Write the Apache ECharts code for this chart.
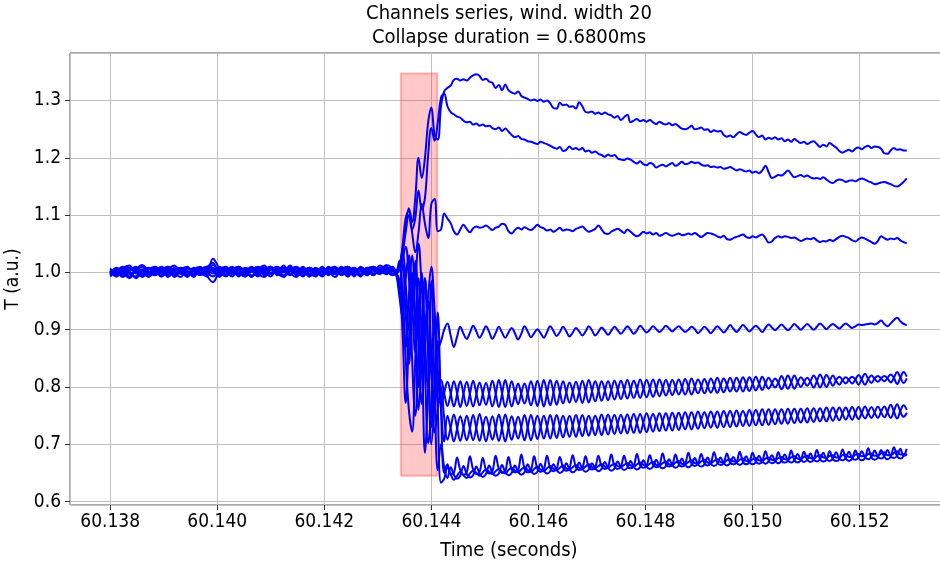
<!DOCTYPE html>
<html>
<head>
<meta charset="utf-8">
<script src="https://cdn.jsdelivr.net/npm/echarts@6/dist/echarts.min.js"></script>
<style>
  html, body { margin: 0; padding: 0; background: #ffffff; }
  #chart { width: 940px; height: 570px; }
</style>
</head>
<body>
<div id="chart"></div>
<script>
// Sample clocks: a coarse clock before the collapse, a finer one from the collapse onwards.
const PRE_START = 60.138, PRE_STEP = 0.00012;   // 45 samples
const MAIN_START = 60.14334, MAIN_STEP = 0.00006; // 160 samples

// Collapse window (seconds) and its vertical extent
const COLLAPSE_START = 60.14343;
const COLLAPSE_DURATION = 0.00068;
const COLLAPSE_LOW = 0.645, COLLAPSE_HIGH = 1.347;

const X_TICKS = [60.138, 60.140, 60.142, 60.144, 60.146, 60.148, 60.150, 60.152];
const Y_TICKS = [0.6, 0.7, 0.8, 0.9, 1.0, 1.1, 1.2, 1.3];

// ---- channel 1 (highest after collapse)
const ch1Pre = [
  1.002,0.993,1.007,1.012,0.998,1.005,0.992,1.003,1.010,0.997,1.002,1.008,0.995,1.005,1.000,
  0.993,1.013,1.003,0.998,1.007,0.995,1.002,1.010,0.998,0.992,1.005,1.002,1.012,0.997,1.003,
  0.993,1.007,1.000,1.010,0.995,1.003,0.998,1.008,1.002,0.993,1.007,1.003,1.012,1.005,1.002];
const ch1Main = [
  1.002,1.010,1.040,1.080,1.112,1.088,1.130,1.200,1.165,1.200,1.262,1.288,1.240,1.232,1.290,1.316,
  1.322,1.326,1.336,1.338,1.335,1.337,1.335,1.340,1.344,1.346,1.343,1.336,1.338,1.333,1.331,1.322,
  1.327,1.318,1.328,1.318,1.314,1.312,1.316,1.308,1.305,1.303,1.300,1.302,1.299,1.302,1.298,1.300,
  1.295,1.287,1.286,1.296,1.292,1.293,1.289,1.290,1.286,1.297,1.290,1.280,1.279,1.281,1.277,1.279,
  1.276,1.279,1.276,1.274,1.270,1.273,1.266,1.271,1.275,1.262,1.265,1.268,1.264,1.266,1.263,1.266,
  1.262,1.259,1.263,1.260,1.258,1.261,1.257,1.259,1.255,1.251,1.250,1.252,1.256,1.250,1.251,1.253,
  1.249,1.250,1.245,1.248,1.246,1.247,1.240,1.237,1.239,1.236,1.241,1.245,1.242,1.240,1.244,1.247,
  1.241,1.236,1.239,1.232,1.235,1.233,1.236,1.232,1.234,1.229,1.232,1.228,1.233,1.229,1.226,1.228,
  1.224,1.227,1.229,1.224,1.219,1.223,1.220,1.226,1.222,1.218,1.212,1.209,1.212,1.214,1.211,1.216,
  1.218,1.215,1.219,1.221,1.217,1.220,1.219,1.216,1.208,1.207,1.213,1.217,1.214,1.215,1.213,1.213];

// ---- channel 2
const ch2Pre = [
  0.997,1.008,1.000,0.990,1.005,1.013,1.002,0.995,1.003,1.010,0.998,0.992,1.007,1.002,0.997,
  1.008,1.017,0.995,1.005,0.998,1.010,1.003,0.993,1.005,1.012,0.998,1.003,0.993,1.007,1.000,
  1.010,0.997,1.005,0.995,1.008,1.002,0.997,1.005,0.993,1.010,1.002,1.007,0.998,1.008,1.003];
const ch2Main = [
  0.998,1.005,1.030,1.070,1.100,1.075,1.095,1.143,1.110,1.130,1.205,1.252,1.230,1.262,1.305,1.312,
  1.290,1.280,1.276,1.272,1.270,1.265,1.262,1.263,1.258,1.260,1.256,1.258,1.255,1.256,1.252,1.250,
  1.253,1.247,1.251,1.246,1.240,1.236,1.238,1.233,1.232,1.229,1.228,1.226,1.224,1.228,1.226,1.224,
  1.221,1.218,1.216,1.219,1.212,1.214,1.220,1.215,1.217,1.214,1.217,1.211,1.213,1.209,1.211,1.207,
  1.205,1.202,1.206,1.203,1.205,1.199,1.197,1.196,1.199,1.197,1.193,1.190,1.194,1.189,1.187,1.191,
  1.189,1.183,1.186,1.188,1.185,1.188,1.191,1.186,1.189,1.193,1.189,1.190,1.193,1.191,1.192,1.188,
  1.186,1.187,1.184,1.185,1.183,1.184,1.181,1.182,1.184,1.181,1.178,1.180,1.178,1.176,1.178,1.174,
  1.176,1.173,1.178,1.186,1.175,1.165,1.167,1.170,1.169,1.173,1.178,1.172,1.166,1.168,1.170,1.167,
  1.169,1.166,1.164,1.165,1.163,1.166,1.162,1.158,1.156,1.160,1.162,1.161,1.158,1.160,1.161,1.159,
  1.162,1.164,1.162,1.159,1.157,1.154,1.155,1.157,1.158,1.156,1.154,1.151,1.150,1.153,1.158,1.164];

// ---- channel 3
const ch3Pre = [
  1.005,1.000,0.992,1.003,1.010,0.998,1.007,1.002,0.993,1.005,1.012,1.000,0.997,1.008,1.003,
  1.000,1.024,1.007,0.995,1.002,1.008,0.997,1.005,1.010,1.000,0.993,1.007,1.002,1.012,0.998,
  1.003,1.008,0.995,1.002,1.007,0.997,1.010,1.000,1.005,1.002,0.995,1.010,1.005,1.013,1.007];
const ch3Main = [
  1.000,1.006,1.045,1.095,1.108,1.070,1.035,1.070,1.120,1.085,1.060,1.120,1.128,1.072,1.075,1.103,
  1.094,1.086,1.072,1.066,1.075,1.083,1.076,1.070,1.077,1.080,1.078,1.079,1.082,1.078,1.074,1.078,
  1.080,1.085,1.083,1.072,1.068,1.074,1.078,1.075,1.079,1.076,1.074,1.078,1.083,1.079,1.077,1.073,
  1.075,1.071,1.074,1.078,1.073,1.075,1.074,1.072,1.076,1.078,1.080,1.075,1.071,1.073,1.076,1.082,
  1.075,1.068,1.067,1.071,1.074,1.076,1.073,1.069,1.075,1.071,1.066,1.063,1.066,1.071,1.068,1.070,
  1.066,1.069,1.064,1.066,1.069,1.066,1.064,1.066,1.068,1.065,1.066,1.068,1.066,1.069,1.065,1.062,
  1.065,1.069,1.068,1.066,1.063,1.061,1.064,1.058,1.057,1.060,1.062,1.064,1.066,1.062,1.060,1.063,
  1.061,1.064,1.066,1.060,1.052,1.054,1.060,1.063,1.061,1.063,1.062,1.060,1.061,1.058,1.055,1.057,
  1.059,1.058,1.060,1.056,1.053,1.055,1.054,1.057,1.055,1.058,1.062,1.064,1.062,1.060,1.056,1.054,
  1.058,1.061,1.059,1.056,1.053,1.050,1.055,1.063,1.060,1.057,1.059,1.058,1.060,1.056,1.053,1.051];

// ---- channel 4 (settles near 0.9)
const ch4Pre = [
  0.995,1.003,1.010,0.998,0.993,1.005,1.000,1.008,0.997,1.003,0.992,1.005,1.010,0.998,1.007,
  0.995,0.983,1.002,1.008,0.997,1.003,1.007,0.995,1.000,1.005,1.010,0.997,1.003,0.998,0.992,
  1.007,1.002,1.008,0.997,1.000,1.007,0.995,1.003,1.008,0.997,1.005,0.998,1.003,1.010,0.998];
const ch4Main = [
  0.998,0.985,1.020,1.045,0.990,0.930,0.985,1.050,0.975,0.900,0.960,1.010,0.935,0.865,0.880,0.900,
  0.911,0.890,0.870,0.888,0.905,0.893,0.884,0.895,0.907,0.897,0.886,0.895,0.906,0.896,0.884,0.894,
  0.905,0.895,0.886,0.895,0.903,0.894,0.883,0.893,0.906,0.897,0.887,0.894,0.901,0.894,0.886,0.896,
  0.906,0.898,0.889,0.896,0.905,0.897,0.888,0.895,0.903,0.897,0.890,0.897,0.906,0.899,0.890,0.896,
  0.904,0.898,0.891,0.898,0.905,0.899,0.893,0.899,0.906,0.900,0.893,0.899,0.907,0.901,0.895,0.900,
  0.906,0.901,0.896,0.901,0.907,0.902,0.897,0.902,0.906,0.901,0.896,0.900,0.905,0.901,0.894,0.899,
  0.905,0.900,0.894,0.900,0.906,0.901,0.895,0.901,0.908,0.902,0.896,0.902,0.908,0.903,0.897,0.902,
  0.907,0.902,0.896,0.903,0.909,0.904,0.899,0.904,0.909,0.904,0.899,0.904,0.910,0.905,0.900,0.905,
  0.910,0.905,0.900,0.905,0.911,0.906,0.901,0.906,0.910,0.906,0.902,0.907,0.911,0.907,0.903,0.906,
  0.909,0.908,0.909,0.910,0.911,0.909,0.912,0.916,0.910,0.906,0.911,0.917,0.921,0.915,0.910,0.908];

// ---- channels 5 and 6 (anti-phase pair near 0.79)
const ch5Pre = [
  1.003,0.997,1.005,1.008,1.000,0.993,1.007,0.998,1.005,1.000,1.008,0.997,1.003,0.993,1.008,
  1.005,0.998,1.010,1.002,0.993,1.005,1.000,1.008,0.995,1.003,1.007,0.998,0.992,1.005,1.010,
  1.000,0.995,1.007,1.003,0.998,1.008,1.003,0.993,1.007,1.002,1.008,0.997,1.005,1.000,1.007];
const ch5Main = [
  1.002,0.980,0.940,0.990,1.030,0.950,0.860,0.930,0.985,0.880,0.800,0.860,0.905,0.830,0.770,0.790,
  0.809,0.789,0.766,0.787,0.810,0.788,0.767,0.788,0.811,0.789,0.768,0.788,0.807,0.788,0.766,0.787,
  0.812,0.789,0.765,0.788,0.810,0.789,0.770,0.789,0.806,0.788,0.768,0.788,0.811,0.790,0.766,0.789,
  0.812,0.791,0.769,0.790,0.810,0.791,0.773,0.791,0.809,0.792,0.772,0.792,0.812,0.793,0.775,0.793,
  0.810,0.794,0.777,0.794,0.811,0.795,0.779,0.795,0.812,0.796,0.781,0.796,0.813,0.797,0.782,0.797,
  0.813,0.798,0.784,0.798,0.812,0.799,0.786,0.799,0.813,0.800,0.787,0.800,0.815,0.801,0.789,0.801,
  0.814,0.802,0.790,0.802,0.816,0.803,0.791,0.803,0.816,0.804,0.792,0.804,0.817,0.805,0.793,0.805,
  0.818,0.806,0.795,0.806,0.816,0.807,0.799,0.807,0.819,0.808,0.797,0.808,0.820,0.809,0.800,0.809,
  0.816,0.809,0.799,0.810,0.822,0.811,0.800,0.811,0.820,0.811,0.804,0.812,0.817,0.812,0.806,0.813,
  0.821,0.813,0.804,0.814,0.820,0.814,0.809,0.815,0.819,0.815,0.808,0.816,0.826,0.817,0.807,0.815];

const ch6Pre = [
  0.998,1.007,0.995,1.002,1.008,1.003,0.997,1.010,1.000,0.995,1.005,1.002,0.992,1.007,0.998,
  1.010,1.005,0.997,1.003,1.010,0.998,0.993,1.002,1.007,0.997,1.005,1.010,1.002,0.995,1.007,
  1.003,0.998,0.993,1.008,1.002,0.997,1.005,1.010,0.998,1.003,0.995,1.008,1.002,0.997,1.010];
const ch6Main = [
  0.998,1.010,1.035,0.980,0.900,0.960,1.020,0.930,0.840,0.900,0.950,0.850,0.770,0.800,0.812,0.788,
  0.767,0.787,0.810,0.789,0.765,0.788,0.809,0.787,0.766,0.787,0.808,0.788,0.769,0.789,0.811,0.789,
  0.765,0.788,0.812,0.789,0.766,0.787,0.806,0.788,0.771,0.789,0.810,0.790,0.767,0.789,0.812,0.790,
  0.768,0.790,0.811,0.791,0.771,0.790,0.808,0.792,0.774,0.791,0.811,0.793,0.773,0.792,0.810,0.794,
  0.776,0.793,0.810,0.795,0.778,0.794,0.811,0.796,0.780,0.795,0.811,0.797,0.781,0.796,0.812,0.798,
  0.783,0.797,0.813,0.799,0.785,0.798,0.812,0.800,0.787,0.799,0.814,0.801,0.787,0.800,0.813,0.802,
  0.789,0.801,0.815,0.803,0.790,0.802,0.815,0.804,0.792,0.803,0.816,0.805,0.792,0.804,0.817,0.806,
  0.794,0.805,0.818,0.807,0.797,0.806,0.815,0.808,0.796,0.807,0.820,0.809,0.797,0.808,0.817,0.810,
  0.802,0.810,0.820,0.811,0.799,0.810,0.821,0.812,0.802,0.812,0.818,0.812,0.806,0.813,0.818,0.813,
  0.804,0.814,0.823,0.814,0.807,0.815,0.819,0.815,0.810,0.816,0.822,0.816,0.805,0.816,0.826,0.818];

// ---- channels 7 and 8 (anti-phase pair near 0.74)
const ch7Pre = [
  1.007,0.998,1.003,0.993,1.005,1.010,0.997,1.002,1.007,0.992,1.003,1.008,1.000,0.995,1.005,
  1.010,1.003,0.992,1.007,1.002,0.997,1.008,1.003,0.993,1.007,1.000,1.005,1.008,0.997,1.002,
  1.007,0.993,1.005,1.000,1.010,0.997,1.003,0.993,1.007,1.003,0.998,1.005,1.008,1.002,0.995];
const ch7Main = [
  0.996,0.970,1.015,0.930,0.840,0.950,1.010,0.880,0.770,0.870,0.950,0.830,0.720,0.760,0.800,0.745,
  0.708,0.729,0.752,0.729,0.706,0.728,0.750,0.728,0.707,0.729,0.753,0.729,0.705,0.728,0.749,0.728,
  0.706,0.729,0.752,0.729,0.708,0.729,0.748,0.729,0.707,0.730,0.751,0.730,0.709,0.730,0.750,0.731,
  0.710,0.731,0.751,0.731,0.712,0.732,0.750,0.732,0.713,0.733,0.751,0.733,0.715,0.734,0.750,0.734,
  0.716,0.735,0.752,0.735,0.718,0.736,0.751,0.736,0.719,0.737,0.753,0.737,0.720,0.738,0.754,0.738,
  0.722,0.739,0.754,0.739,0.724,0.740,0.755,0.740,0.725,0.741,0.756,0.741,0.726,0.742,0.757,0.742,
  0.728,0.743,0.757,0.743,0.729,0.744,0.758,0.744,0.730,0.745,0.759,0.745,0.732,0.746,0.760,0.746,
  0.733,0.747,0.761,0.747,0.734,0.748,0.761,0.748,0.736,0.749,0.762,0.749,0.737,0.750,0.762,0.750,
  0.738,0.751,0.763,0.751,0.740,0.752,0.764,0.752,0.741,0.753,0.764,0.753,0.743,0.754,0.765,0.754,
  0.744,0.755,0.766,0.755,0.746,0.756,0.766,0.756,0.747,0.757,0.769,0.757,0.745,0.758,0.768,0.760];

const ch8Pre = [
  1.000,1.005,0.997,1.008,1.002,0.995,1.007,1.003,0.993,1.008,1.002,0.998,1.007,1.003,0.995,
  1.002,1.008,1.000,0.993,1.005,1.010,0.998,1.002,1.005,0.995,1.008,1.000,1.003,1.010,0.997,
  0.995,1.007,1.002,0.993,1.005,1.010,0.998,1.002,1.007,0.995,1.008,1.003,0.997,1.007,1.005];
const ch8Main = [
  1.003,1.020,0.960,0.870,0.960,1.030,0.920,0.800,0.900,0.990,0.850,0.730,0.800,0.880,0.770,0.705,
  0.750,0.728,0.705,0.727,0.749,0.729,0.707,0.728,0.751,0.728,0.706,0.729,0.748,0.728,0.708,0.729,
  0.752,0.728,0.705,0.729,0.749,0.729,0.710,0.730,0.751,0.729,0.707,0.730,0.750,0.731,0.710,0.730,
  0.751,0.731,0.711,0.732,0.750,0.731,0.713,0.733,0.751,0.732,0.714,0.734,0.750,0.733,0.716,0.735,
  0.752,0.734,0.717,0.736,0.751,0.735,0.719,0.737,0.752,0.736,0.720,0.738,0.753,0.737,0.721,0.739,
  0.753,0.738,0.723,0.740,0.754,0.739,0.724,0.741,0.755,0.740,0.726,0.742,0.756,0.741,0.727,0.743,
  0.756,0.742,0.729,0.744,0.757,0.743,0.730,0.745,0.758,0.744,0.731,0.746,0.758,0.745,0.732,0.747,
  0.760,0.746,0.733,0.748,0.761,0.747,0.735,0.749,0.761,0.748,0.736,0.750,0.762,0.749,0.738,0.751,
  0.763,0.750,0.739,0.752,0.763,0.751,0.740,0.753,0.764,0.752,0.742,0.754,0.764,0.753,0.743,0.755,
  0.765,0.754,0.745,0.756,0.765,0.755,0.746,0.757,0.766,0.756,0.746,0.758,0.770,0.757,0.748,0.755];

// ---- channels 9, 10, 11 (lowest group near 0.66 - 0.68)
const ch9Pre = [
  0.993,1.002,1.007,0.997,1.003,0.992,1.005,1.010,1.000,0.995,1.007,1.002,0.993,1.005,1.010,
  0.997,1.007,1.003,0.995,1.008,1.000,1.005,0.992,1.003,1.008,0.998,1.005,0.995,1.002,1.007,
  0.998,1.008,1.003,0.995,1.007,1.000,1.005,0.997,1.002,1.008,1.003,0.995,1.007,1.002,1.005];
const ch9Main = [
  0.999,0.985,0.900,0.772,0.880,1.000,0.900,0.760,0.850,0.990,0.870,0.700,0.780,0.930,0.760,0.650,
  0.665,0.648,0.650,0.677,0.655,0.647,0.651,0.679,0.656,0.648,0.652,0.676,0.655,0.649,0.653,0.680,
  0.657,0.650,0.653,0.678,0.656,0.651,0.654,0.682,0.658,0.651,0.655,0.679,0.657,0.652,0.656,0.680,
  0.658,0.653,0.657,0.678,0.659,0.654,0.658,0.681,0.660,0.655,0.658,0.679,0.660,0.656,0.659,0.680,
  0.661,0.657,0.660,0.682,0.662,0.657,0.661,0.680,0.662,0.658,0.662,0.683,0.663,0.659,0.662,0.681,
  0.664,0.660,0.663,0.684,0.665,0.661,0.664,0.682,0.665,0.661,0.665,0.685,0.666,0.662,0.666,0.683,
  0.667,0.663,0.667,0.686,0.668,0.664,0.667,0.684,0.668,0.665,0.668,0.687,0.669,0.665,0.669,0.685,
  0.670,0.666,0.670,0.688,0.671,0.667,0.670,0.686,0.671,0.668,0.671,0.689,0.672,0.668,0.672,0.687,
  0.673,0.669,0.673,0.690,0.674,0.670,0.673,0.688,0.674,0.671,0.674,0.691,0.675,0.671,0.675,0.689,
  0.676,0.672,0.676,0.693,0.677,0.673,0.677,0.690,0.678,0.674,0.678,0.695,0.679,0.675,0.679,0.692];

const ch10Pre = [
  1.002,0.995,1.005,1.002,0.990,1.003,1.008,0.998,1.005,1.010,0.997,1.003,1.002,0.992,1.005,
  1.000,0.993,1.005,1.010,0.998,1.007,0.993,1.003,1.008,1.002,0.997,1.007,1.000,1.005,0.995,
  1.008,1.003,0.997,1.007,1.002,0.992,1.005,1.010,1.000,0.995,1.007,1.010,1.000,1.005,1.008];
const ch10Main = [
  1.000,1.010,0.960,0.850,0.760,0.722,0.850,0.990,0.880,0.685,0.800,0.985,0.800,0.655,0.700,0.660,
  0.641,0.660,0.647,0.640,0.645,0.662,0.648,0.642,0.646,0.661,0.649,0.643,0.648,0.663,0.650,0.645,
  0.649,0.664,0.651,0.646,0.650,0.663,0.652,0.647,0.651,0.665,0.653,0.648,0.652,0.666,0.654,0.649,
  0.653,0.665,0.655,0.650,0.654,0.667,0.656,0.651,0.655,0.668,0.657,0.652,0.656,0.667,0.658,0.653,
  0.657,0.669,0.659,0.654,0.658,0.670,0.660,0.655,0.659,0.671,0.660,0.656,0.660,0.672,0.661,0.657,
  0.661,0.673,0.662,0.658,0.662,0.674,0.663,0.659,0.663,0.675,0.664,0.660,0.664,0.676,0.665,0.661,
  0.665,0.677,0.666,0.662,0.666,0.677,0.667,0.663,0.667,0.678,0.668,0.664,0.668,0.679,0.669,0.665,
  0.669,0.680,0.670,0.666,0.670,0.681,0.671,0.667,0.671,0.682,0.672,0.668,0.672,0.683,0.673,0.669,
  0.673,0.684,0.673,0.670,0.674,0.685,0.674,0.671,0.675,0.686,0.675,0.672,0.676,0.687,0.676,0.673,
  0.677,0.688,0.677,0.674,0.678,0.689,0.678,0.675,0.679,0.690,0.679,0.676,0.680,0.692,0.680,0.684];

const ch11Pre = [
  1.005,1.000,0.997,1.007,1.003,0.998,0.993,1.005,1.002,1.007,0.995,1.000,1.008,1.003,0.998,
  1.007,1.002,1.005,0.997,1.003,0.993,1.007,1.002,0.998,1.005,1.010,0.995,1.007,1.003,0.998,
  1.005,0.993,1.002,1.007,0.997,1.003,1.008,1.002,0.995,1.005,1.000,1.007,1.003,0.998,1.003];
const ch11Main = [
  0.997,0.960,0.920,1.000,1.020,0.850,0.750,0.860,1.000,0.840,0.702,0.760,0.920,0.760,0.633,0.640,
  0.660,0.648,0.638,0.645,0.652,0.646,0.641,0.649,0.654,0.650,0.645,0.651,0.656,0.652,0.648,0.653,
  0.657,0.652,0.649,0.655,0.659,0.654,0.651,0.656,0.660,0.655,0.652,0.657,0.661,0.656,0.653,0.658,
  0.662,0.657,0.655,0.659,0.663,0.658,0.656,0.660,0.664,0.659,0.657,0.661,0.665,0.660,0.658,0.662,
  0.665,0.661,0.659,0.663,0.666,0.662,0.660,0.664,0.667,0.663,0.661,0.665,0.668,0.664,0.662,0.666,
  0.669,0.664,0.663,0.667,0.670,0.665,0.664,0.668,0.671,0.666,0.665,0.669,0.672,0.667,0.666,0.670,
  0.673,0.668,0.667,0.671,0.674,0.669,0.668,0.672,0.674,0.670,0.669,0.673,0.675,0.671,0.670,0.674,
  0.676,0.672,0.671,0.675,0.677,0.673,0.672,0.676,0.678,0.674,0.673,0.677,0.679,0.675,0.674,0.678,
  0.680,0.676,0.675,0.679,0.681,0.677,0.676,0.680,0.681,0.677,0.677,0.681,0.682,0.678,0.678,0.682,
  0.683,0.679,0.679,0.683,0.684,0.680,0.680,0.684,0.686,0.681,0.681,0.685,0.688,0.682,0.683,0.680];

const channels = [
  [ch1Pre, ch1Main], [ch2Pre, ch2Main], [ch3Pre, ch3Main], [ch4Pre, ch4Main],
  [ch5Pre, ch5Main], [ch6Pre, ch6Main], [ch7Pre, ch7Main], [ch8Pre, ch8Main],
  [ch9Pre, ch9Main], [ch10Pre, ch10Main], [ch11Pre, ch11Main]
];

// Pair each sample with its time stamp from the two sample clocks.
function toPoints(pre, main) {
  const pts = [];
  pre.forEach((v, k) => pts.push([PRE_START + k * PRE_STEP, v]));
  main.forEach((v, k) => pts.push([MAIN_START + k * MAIN_STEP, v]));
  return pts;
}

const FONT = "'DejaVu Sans Condensed', 'DejaVu Sans', sans-serif";
// The plot frame runs slightly past the right edge of the canvas.
const GRID = { left: 70, top: 53, width: 878, height: 452 };

const series = [{
  type: 'line',
  data: [],
  silent: true,
  markArea: {
    silent: true,
    itemStyle: { color: 'rgba(255, 0, 0, 0.22)', borderColor: 'rgba(255, 60, 60, 0.35)', borderWidth: 2 },
    data: [[
      { xAxis: COLLAPSE_START, yAxis: COLLAPSE_LOW },
      { xAxis: COLLAPSE_START + COLLAPSE_DURATION, yAxis: COLLAPSE_HIGH }
    ]]
  }
}];
channels.forEach(([pre, main]) => {
  series.push({
    type: 'line',
    data: toPoints(pre, main),
    symbol: 'none',
    smooth: 0.4,
    silent: true,
    lineStyle: { color: '#0000ff', width: 2 },
    z: 3
  });
});

const chart = echarts.init(document.getElementById('chart'), null, { renderer: 'canvas' });
chart.setOption({
  animation: false,
  backgroundColor: '#ffffff',
  grid: Object.assign({
    show: true, borderColor: '#555555', borderWidth: 1, backgroundColor: 'transparent',
    containLabel: false, outerBoundsMode: 'none'
  }, GRID),
  xAxis: {
    type: 'value',
    min: 60.13725, max: 60.15365,
    splitNumber: 8,
    name: 'Time (seconds)',
    nameLocation: 'middle',
    nameGap: 36,
    nameTextStyle: { fontFamily: FONT, fontSize: 20, color: '#000' },
    axisLine: { show: false },
    axisTick: { show: true, length: 5, lineStyle: { color: '#333' } },
    axisLabel: {
      fontFamily: FONT, fontSize: 19, color: '#000', margin: 8,
      showMinLabel: false, showMaxLabel: false,
      formatter: v => X_TICKS.some(t => Math.abs(t - v) < 1e-7) ? v.toFixed(3) : ''
    },
    splitLine: { show: true, lineStyle: { color: '#c0c0c0', width: 1 } }
  },
  yAxis: {
    type: 'value',
    min: 0.594, max: 1.383,
    splitNumber: 8,
    name: 'T (a.u.)',
    nameLocation: 'middle',
    nameGap: 36,
    nameRotate: 90,
    nameTextStyle: { fontFamily: FONT, fontSize: 19, color: '#000' },
    axisLine: { show: false },
    axisTick: { show: true, length: 5, lineStyle: { color: '#333' } },
    axisLabel: {
      fontFamily: FONT, fontSize: 19, color: '#000', margin: 9,
      showMinLabel: false, showMaxLabel: false,
      formatter: v => Y_TICKS.some(t => Math.abs(t - v) < 1e-7) ? v.toFixed(1) : ''
    },
    splitLine: { show: true, lineStyle: { color: '#c0c0c0', width: 1 } }
  },
  graphic: [
    { type: 'text', x: 509, y: 14, style: { text: 'Channels series, wind. width 20', font: "20px " + FONT, fill: '#000', textAlign: 'center', textVerticalAlign: 'middle' } },
    { type: 'text', x: 509, y: 38, style: { text: 'Collapse duration = 0.6800ms', font: "20px " + FONT, fill: '#000', textAlign: 'center', textVerticalAlign: 'middle' } }
  ],
  series: series
});
</script>
</body>
</html>
